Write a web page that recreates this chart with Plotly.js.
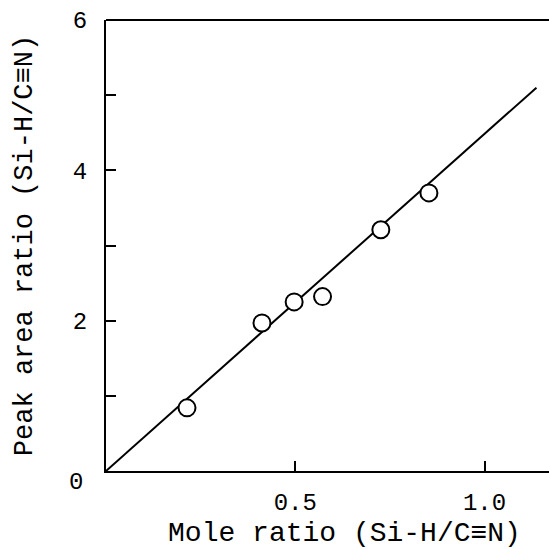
<!DOCTYPE html>
<html><head><meta charset="utf-8">
<script src="https://cdn.plot.ly/plotly-3.0.1.min.js"></script>
<style>html,body{margin:0;padding:0;background:#fff;overflow:hidden}</style>
</head><body>
<div id="chart" style="width:583px;height:549px"></div>
<script>
// Data
const moleRatio = [0.214, 0.412, 0.497, 0.572, 0.726, 0.853];
const peakAreaRatio = [0.84, 1.97, 2.25, 2.32, 3.21, 3.70];
const fitX = [0, 1.137];
const fitY = [0, 5.10];
const yTickVals = [0, 1, 2, 3, 4, 5, 6];
const yTickText = ["", "", "2", "", "4", "", "6"];
const xTickVals = [0.5, 1.0];
const xTickText = ["0.5", "1.0"];

const font = "Liberation Mono, Courier New, monospace";
const traces = [
  {x: fitX, y: fitY, mode: "lines", line: {color: "#000", width: 2}, hoverinfo: "skip", showlegend: false},
  {x: moleRatio, y: peakAreaRatio, mode: "markers",
   marker: {symbol: "circle", size: 17, color: "#fff", line: {color: "#000", width: 2}}, showlegend: false}
];
const layout = {
  width: 583, height: 549,
  margin: {l: 106, r: 0, t: 20, b: 78},
  paper_bgcolor: "#fff", plot_bgcolor: "#fff",
  font: {family: font, color: "#000", size: 24},
  xaxis: {range: [0, 1.26], tickvals: xTickVals, ticktext: xTickText, ticks: "inside", ticklen: 10, tickwidth: 2,
    tickcolor: "#000", showline: true, linewidth: 2, linecolor: "#000", showgrid: false, zeroline: false,
    tickfont: {family: font, size: 24}, ticklabelstandoff: 8,
    title: {text: "Mole ratio (Si-H/C\u2261N)", font: {family: font, size: 28}, standoff: 9}},
  yaxis: {range: [0, 6], tickvals: yTickVals, ticktext: yTickText, ticks: "inside", ticklen: 10, tickwidth: 2,
    tickcolor: "#000", showline: true, linewidth: 2, linecolor: "#000", showgrid: false, zeroline: false,
    tickfont: {family: font, size: 24}, ticklabelstandoff: 12,
    title: {text: "Peak area ratio (Si-H/C\u2261N)", font: {family: font, size: 27}, standoff: 32}},
  shapes: [{type: "line", xref: "paper", yref: "paper", x0: 0, x1: 1, y0: 1, y1: 1, line: {color: "#000", width: 2}}],
  annotations: [{text: "0", xref: "x", yref: "y", x: 0, y: 0, xshift: -30, yshift: -11, showarrow: false,
    font: {family: font, size: 24}}]
};
Plotly.newPlot("chart", traces, layout, {displayModeBar: false, staticPlot: true});
</script>
</body></html>
